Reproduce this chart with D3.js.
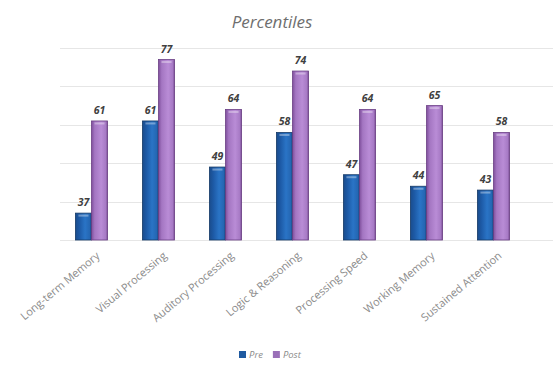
<!DOCTYPE html>
<html>
<head>
<meta charset="utf-8">
<script src="https://d3js.org/d3.v7.min.js"></script>
<style>
  body { margin: 0; background: #fff; }
  svg { font-family: "Open Sans", "Noto Sans", sans-serif; }
  .grid line { stroke: #e6e6e6; stroke-width: 1; }
  .val { font-size: 10.5px; font-weight: bold; font-style: italic; fill: #404040; text-anchor: middle; }
  .cat { font-size: 11px; fill: #8c8c8c; text-anchor: end; }
</style>
</head>
<body>
<div id="chart"></div>
<script>
// chart values
var categories = ["Long-term Memory", "Visual Processing", "Auditory Processing",
                  "Logic & Reasoning", "Processing Speed", "Working Memory", "Sustained Attention"];
var preValues  = [37, 61, 49, 58, 47, 44, 43];
var postValues = [61, 77, 64, 74, 64, 65, 58];
var seriesNames = ["Pre", "Post"];
var gridTicks = [30, 40, 50, 60, 70, 80];

var width = 553, height = 368;
var margin = {top: 48, right: 26, bottom: 128, left: 58};

var svg = d3.select("#chart").append("svg")
    .attr("width", width)
    .attr("height", height);

// gradients to fake the 3d look of the bars
var defs = svg.append("defs");
function grad(id, stops) {
  var g = defs.append("linearGradient").attr("id", id)
      .attr("x1", "0%").attr("x2", "100%").attr("y1", "0%").attr("y2", "0%");
  stops.forEach(function(s) {
    g.append("stop").attr("offset", s[0]).attr("stop-color", s[1]);
  });
}
grad("gPre",  [["0%", "#1a4c8c"], ["25%", "#1d5aa6"], ["60%", "#2a74c6"], ["90%", "#2466b2"], ["100%", "#163f74"]]);
grad("gPost", [["0%", "#7f4f9c"], ["20%", "#a476c2"], ["60%", "#b98cd6"], ["90%", "#a679c4"], ["100%", "#6f4289"]]);

var colors = {Pre: "url(#gPre)", Post: "url(#gPost)"};
var edge = {Pre: "#163a66", Post: "#6a3f84"};
var legendColors = {Pre: "#1f5aa0", Post: "#9a70b8"};

var x = d3.scaleBand()
    .domain(categories)
    .range([margin.left, width - margin.right])
    .paddingInner(0.52)
    .paddingOuter(0.26);

var xs = d3.scaleBand()
    .domain(seriesNames)
    .range([0, x.bandwidth()]);

var y = d3.scaleLinear()
    .domain([30, 80])
    .range([height - margin.bottom, margin.top]);

// title
svg.append("text")
    .attr("x", 272).attr("y", 28)
    .attr("text-anchor", "middle")
    .style("font-size", "17px")
    .style("font-style", "italic")
    .style("fill", "#6e6e6e")
    .text("Percentiles");

// gridlines
svg.append("g").attr("class", "grid")
  .selectAll("line").data(gridTicks).enter().append("line")
    .attr("x1", 60).attr("x2", width)
    .attr("y1", function(d) { return Math.round(y(d)) + 0.5; })
    .attr("y2", function(d) { return Math.round(y(d)) + 0.5; });

var rows = categories.map(function(c, i) {
  return {cat: c, Pre: preValues[i], Post: postValues[i]};
});

var groups = svg.append("g").selectAll("g").data(rows).enter().append("g")
    .attr("transform", function(d) { return "translate(" + x(d.cat) + ",0)"; });

var bars = groups.selectAll("g.bar")
  .data(function(d) { return seriesNames.map(function(s) { return {key: s, value: d[s]}; }); })
  .enter().append("g").attr("class", "bar");

bars.append("rect")
    .attr("x", function(d) { return xs(d.key); })
    .attr("y", function(d) { return y(d.value); })
    .attr("width", xs.bandwidth())
    .attr("height", function(d) { return y(30) - y(d.value); })
    .attr("fill", function(d) { return colors[d.key]; })
    .attr("stroke", function(d) { return edge[d.key]; })
    .attr("stroke-width", 0.8);

// light cap on top of bars
bars.append("rect")
    .attr("x", function(d) { return xs(d.key) + 3; })
    .attr("y", function(d) { return y(d.value) + 1.5; })
    .attr("width", xs.bandwidth() - 6)
    .attr("height", 2)
    .attr("fill", "#ffffff")
    .attr("opacity", 0.35);

bars.append("text")
    .attr("class", "val")
    .attr("x", function(d) { return xs(d.key) + xs.bandwidth() / 2; })
    .attr("y", function(d) { return y(d.value) - 7; })
    .text(function(d) { return d.value; });

// rotated category labels
svg.append("g").selectAll("text").data(categories).enter().append("text")
    .attr("class", "cat")
    .attr("transform", function(d) {
      return "translate(" + (x(d) + x.bandwidth() / 2 + 9) + "," + (y(30) + 17) + ") rotate(-40)";
    })
    .text(function(d) { return d; });

// legend
var legend = svg.append("g").attr("transform", "translate(239,351)");
var lx = 0;
seriesNames.forEach(function(s) {
  legend.append("rect").attr("x", lx).attr("y", 0).attr("width", 7).attr("height", 7)
      .attr("fill", legendColors[s]);
  var t = legend.append("text").attr("x", lx + 10).attr("y", 7)
      .style("font-size", "9.5px").style("font-style", "italic").style("fill", "#8c8c8c")
      .text(s);
  lx += 10 + t.node().getComputedTextLength() + 10;
});
</script>
</body>
</html>
